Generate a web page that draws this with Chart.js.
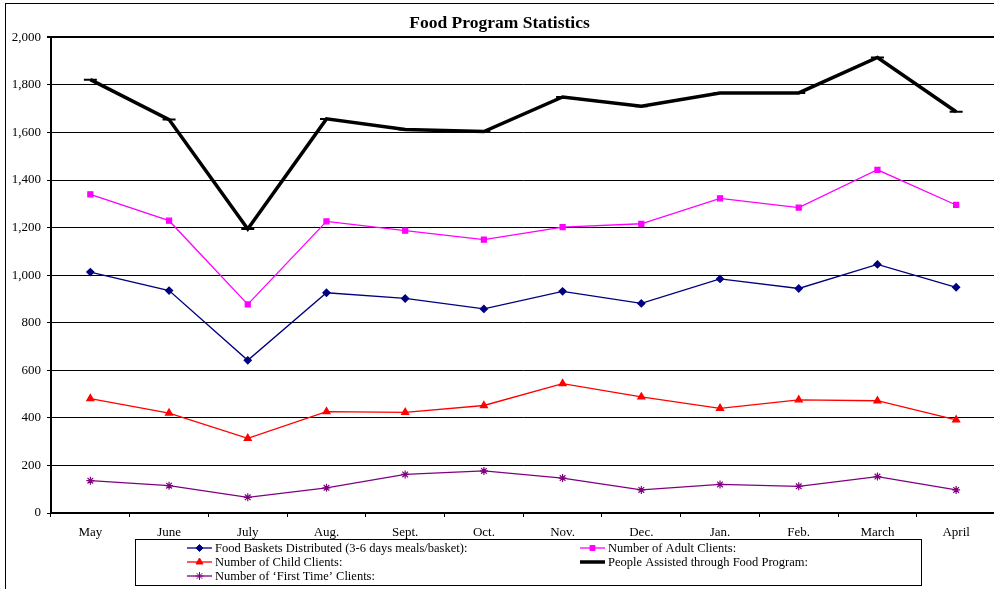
<!DOCTYPE html>
<html>
<head>
<meta charset="utf-8">
<script src="https://cdn.jsdelivr.net/npm/chart.js@4/dist/chart.umd.min.js"></script>
<style>
  html, body { margin: 0; padding: 0; background: #fff; overflow: hidden; width: 994px; height: 589px; }
  #frame { position: absolute; left: 5px; top: 3px; width: 1200px; height: 800px; border: 1px solid #000; }
  #chart { position: absolute; left: 0; top: 0; }
</style>
</head>
<body>
<div id="frame"></div>
<canvas id="chart" width="1004" height="589"></canvas>
<script>
const months = ['May', 'June', 'July', 'Aug.', 'Sept.', 'Oct.', 'Nov.', 'Dec.', 'Jan.', 'Feb.', 'March', 'April'];
const foodBaskets = [1013, 935, 642, 926, 902, 858, 932, 881, 984, 944, 1045, 949];
const adultClients = [1340, 1229, 877, 1226, 1187, 1149, 1202, 1216, 1323, 1284, 1443, 1295];
const childClients = [481, 420, 314, 426, 423, 452, 544, 488, 440, 476, 472, 392];
const peopleAssisted = [1822, 1654, 1194, 1657, 1612, 1604, 1749, 1710, 1766, 1766, 1915, 1687];
const firstTimeClients = [136, 115, 66, 106, 162, 177, 147, 97, 120, 112, 153, 97];
const yTicks = [0, 200, 400, 600, 800, 1000, 1200, 1400, 1600, 1800, 2000];

const serif = '"Liberation Serif", "Times New Roman", serif';

// legend drawn as a boxed two-column grid, like the spreadsheet original
const boxLegend = {
  id: 'boxLegend',
  afterDraw(chart) {
    const ctx = chart.ctx;
    ctx.save();
    ctx.strokeStyle = '#000';
    ctx.lineWidth = 1;
    ctx.strokeRect(135.5, 539.5, 786, 46);
    const cols = [187, 580];
    const rows = [548, 562, 576];
    ctx.font = '12.5px ' + serif;
    ctx.textBaseline = 'middle';
    chart.data.datasets.forEach((ds, i) => {
      const x = cols[i % 2], y = rows[Math.floor(i / 2)];
      ctx.strokeStyle = ds.borderColor;
      ctx.fillStyle = ds.borderColor;
      ctx.lineWidth = ds.borderWidth;
      ctx.beginPath();
      ctx.moveTo(x, y);
      ctx.lineTo(x + 25, y);
      ctx.stroke();
      if (ds.pointStyle !== 'line') {
        ctx.lineWidth = 1;
        Chart.helpers.drawPoint(ctx, { pointStyle: ds.pointStyle, radius: ds.pointRadius, rotation: 0, borderWidth: 1 }, x + 12.5, y);
      }
      ctx.fillStyle = '#000';
      ctx.fillText(ds.label, x + 28, y + 1);
    });
    ctx.restore();
  }
};

new Chart(document.getElementById('chart'), {
  type: 'line',
  data: {
    labels: months,
    datasets: [
      { label: 'Food Baskets Distributed (3-6 days meals/basket):', data: foodBaskets, borderColor: '#000080', backgroundColor: '#000080', borderWidth: 1.3, pointStyle: 'rectRot', pointRadius: 3.5 },
      { label: 'Number of Adult Clients:', data: adultClients, borderColor: '#FF00FF', backgroundColor: '#FF00FF', borderWidth: 1.3, pointStyle: 'rect', pointRadius: 3.5 },
      { label: 'Number of Child Clients:', data: childClients, borderColor: '#FF0000', backgroundColor: '#FF0000', borderWidth: 1.3, pointStyle: 'triangle', pointRadius: 4 },
      { label: 'People Assisted through Food Program:', data: peopleAssisted, borderColor: '#000000', backgroundColor: '#000000', borderWidth: 3.5, pointStyle: 'line', pointRadius: 6.5, pointBorderWidth: 2 },
      { label: "Number of \u2018First Time\u2019 Clients:", data: firstTimeClients, borderColor: '#800080', backgroundColor: '#800080', borderWidth: 1.3, pointStyle: 'star', pointRadius: 4, pointBorderWidth: 1.2 },
    ],
  },
  options: {
    responsive: false,
    animation: false,
    devicePixelRatio: 1,
    layout: { padding: { left: 0, right: 5, top: 0, bottom: 0 } },
    plugins: {
      legend: { display: false },
      tooltip: { enabled: false },
      title: {
        display: true,
        text: 'Food Program Statistics',
        color: '#000',
        font: { family: serif, size: 17.5, weight: 'bold' },
        padding: { top: 12.5, bottom: 3.8 },
      },
    },
    scales: {
      x: {
        offset: true,
        afterFit: (s) => { s.height = 76; s.paddingLeft = 0; s.paddingRight = 0; },
        grid: { drawOnChartArea: false, drawTicks: true, tickLength: 4, color: '#000', offset: true },
        border: { color: '#000', width: 2 },
        ticks: { color: '#000', font: { family: serif, size: 13 }, padding: 8, maxRotation: 0, autoSkip: false },
      },
      y: {
        min: 0,
        max: 2000,
        afterFit: (s) => { s.width = 51; s.paddingTop = 0; s.paddingBottom = 0; },
        afterBuildTicks: (s) => { s.ticks = yTicks.map((v) => ({ value: v })); },
        grid: { color: '#000', lineWidth: (c) => (c.tick && c.tick.value === 2000 ? 2 : 1), tickLength: 4 },
        border: { color: '#000', width: 2 },
        ticks: {
          color: '#000',
          font: { family: serif, size: 13 },
          padding: 6,
          callback: (v) => v.toLocaleString('en-US'),
        },
      },
    },
  },
  plugins: [boxLegend],
});
</script>
</body>
</html>
